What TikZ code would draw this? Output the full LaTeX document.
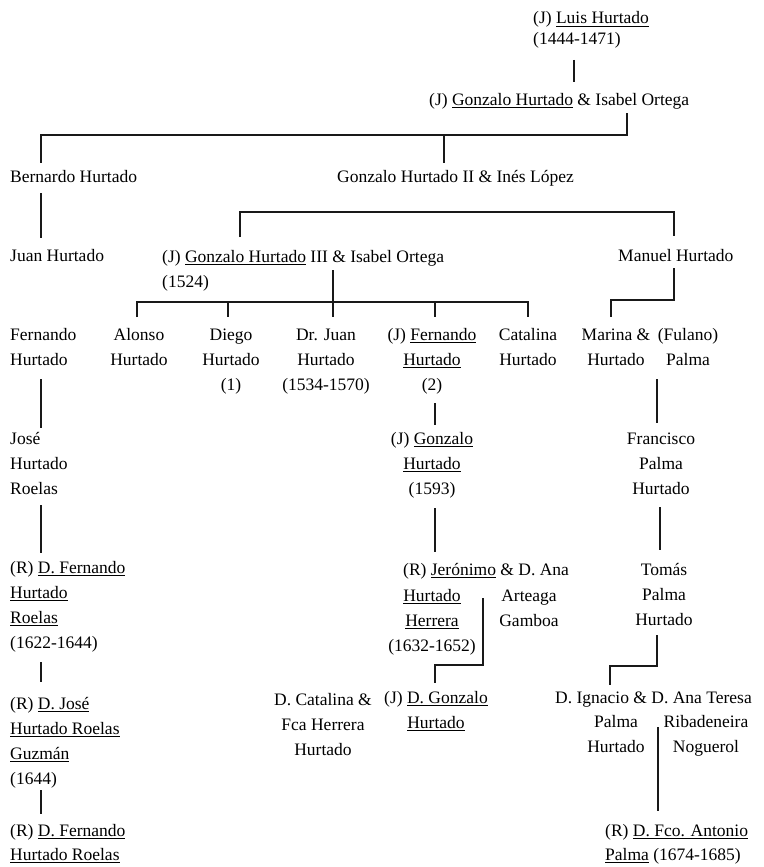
\documentclass[tikz,border=0pt]{standalone}
\usepackage{fontspec}
\setmainfont{Liberation Serif}
\newcommand\undl[1]{\setbox0\hbox{#1}\rlap{\rule[-2.8pt]{\wd0}{0.7pt}}\box0\relax}
\tikzset{
  lbl/.style={inner sep=0pt, font=\fontsize{17.5}{25}\selectfont},
  lft/.style={lbl, align=left, anchor=base west},
  ctr/.style={lbl, align=center, anchor=base},
  link/.style={line width=1.1pt, draw=black!90},
}
\begin{document}
\begin{tikzpicture}[x=1pt,y=-1pt]
\useasboundingbox (0,0) rectangle (763,867);
% nodes (anchored at the baseline of their last line)
\node[lft] (luis) at (533,45) {(J) \undl{Luis Hurtado}\\[-4pt](1444-1471)};
\node[lft] (gon1) at (429,105) {(J) \undl{Gonzalo Hurtado} \& Isabel Ortega};
\node[lft] (bern) at (10,182) {Bernardo Hurtado};
\node[lft] (gon2) at (337,182) {Gonzalo Hurtado II \& Inés López};
\node[lft] (juan) at (10,261) {Juan Hurtado};
\node[lft] (gon3) at (162,287) {(J) \undl{Gonzalo Hurtado} III \& Isabel Ortega\\(1524)};
\node[lft] (manuel) at (618,261) {Manuel Hurtado};
\node[lft] (fern) at (10,365) {Fernando\\Hurtado};
\node[ctr] (alonso) at (139,365) {Alonso\\Hurtado};
\node[ctr] (diego) at (231,390) {Diego\\Hurtado\\(1)};
\node[ctr] (drjuan) at (326,390) {Dr. Juan\\Hurtado\\(1534-1570)};
\node[ctr] (fern2) at (432,390) {(J) \undl{Fernando}\\\undl{Hurtado}\\(2)};
\node[ctr] (catal) at (528,365) {Catalina\\Hurtado};
\node[ctr] (marina) at (616,365) {Marina \&\\Hurtado};
\node[ctr] (fulano) at (688,365) {(Fulano)\\Palma};
\node[lft] (jose) at (10,494) {José\\Hurtado\\Roelas};
\node[ctr] (gon4) at (432,494) {(J) \undl{Gonzalo}\\\undl{Hurtado}\\(1593)};
\node[ctr] (franc) at (661,494) {Francisco\\Palma\\Hurtado};
\node[lft] (dfern) at (10,648) {(R) \undl{D. Fernando}\\\undl{Hurtado}\\\undl{Roelas}\\(1622-1644)};
\node[lft] (jer1) at (403,575) {(R) \undl{Jerónimo} \& D. Ana};
\node[ctr] (jer2) at (432,651) {\undl{Hurtado}\\\undl{Herrera}\\(1632-1652)};
\node[ctr] (ana) at (529,626) {Arteaga\\Gamboa};
\node[ctr] (tomas) at (664,625) {Tomás\\Palma\\Hurtado};
\node[lft] (djose) at (10,784) {(R) \undl{D. José}\\\undl{Hurtado Roelas}\\\undl{Guzmán}\\(1644)};
\node[ctr] (dcat) at (323,755) {D. Catalina \&\\Fca Herrera\\Hurtado};
\node[ctr] (dgonz) at (436,728) {(J) \undl{D. Gonzalo}\\\undl{Hurtado}};
\node[lft] (ignac) at (555,703) {D. Ignacio \& D. Ana Teresa};
\node[ctr] (ignac2) at (616,752) {Palma\\Hurtado};
\node[ctr] (anat) at (706,752) {Ribadeneira\\Noguerol};
\node[lft] (dfern3) at (10,860) {(R) \undl{D. Fernando}\\[-1pt]\undl{Hurtado Roelas}};
\node[lft] (fco) at (605,860) {(R) \undl{D. Fco. Antonio}\\[-1pt]\undl{Palma} (1674-1685)};
% coordinates
\coordinate (a1) at (574,60);   \coordinate (a2) at (574,82);
\coordinate (b1) at (627,113);  \coordinate (b2) at (627,135);
\coordinate (b3) at (41,135);   \coordinate (b4) at (41,163);
\coordinate (b5) at (444,135);  \coordinate (b6) at (444,163);
\coordinate (c1) at (41,193);   \coordinate (c2) at (41,238);
\coordinate (d1) at (240,237);  \coordinate (d2) at (240,212);
\coordinate (d3) at (674,212);  \coordinate (d4) at (674,236);
\coordinate (e1) at (333,270);  \coordinate (e2) at (333,317);
\coordinate (f1) at (137,317);  \coordinate (f2) at (137,302);
\coordinate (f3) at (528,302);  \coordinate (f4) at (528,317);
\coordinate (f5) at (228,302);  \coordinate (f6) at (228,317);
\coordinate (f7) at (435,302);  \coordinate (f8) at (435,317);
\coordinate (g1) at (674,268);  \coordinate (g2) at (674,300);
\coordinate (g3) at (611,300);  \coordinate (g4) at (611,317);
\coordinate (h1) at (41,379);   \coordinate (h2) at (41,428);
\coordinate (i1) at (657,379);  \coordinate (i2) at (657,423);
\coordinate (k1) at (435,403);  \coordinate (k2) at (435,425);
\coordinate (l1) at (41,505);   \coordinate (l2) at (41,553);
\coordinate (m1) at (435,508);  \coordinate (m2) at (435,552);
\coordinate (n1) at (660,507);  \coordinate (n2) at (660,550);
\coordinate (o1) at (41,662);   \coordinate (o2) at (41,682);
\coordinate (p1) at (483,598);  \coordinate (p2) at (483,665);
\coordinate (p3) at (435,665);  \coordinate (p4) at (435,683);
\coordinate (q1) at (657,635);  \coordinate (q2) at (657,666);
\coordinate (q3) at (610,666);  \coordinate (q4) at (610,685);
\coordinate (r1) at (658,727);  \coordinate (r2) at (658,811);
\coordinate (s1) at (41,790);   \coordinate (s2) at (41,814);
% connectors
\draw[link] (a1) -- (a2);
\draw[link] (b1) -- (b2) -- (b3) -- (b4);
\draw[link] (b5) -- (b6);
\draw[link] (c1) -- (c2);
\draw[link] (d1) -- (d2) -- (d3) -- (d4);
\draw[link] (e1) -- (e2);
\draw[link] (f1) -- (f2) -- (f3) -- (f4);
\draw[link] (f5) -- (f6);
\draw[link] (f7) -- (f8);
\draw[link] (g1) -- (g2) -- (g3) -- (g4);
\draw[link] (h1) -- (h2);
\draw[link] (i1) -- (i2);
\draw[link] (k1) -- (k2);
\draw[link] (l1) -- (l2);
\draw[link] (m1) -- (m2);
\draw[link] (n1) -- (n2);
\draw[link] (o1) -- (o2);
\draw[link] (p1) -- (p2) -- (p3) -- (p4);
\draw[link] (q1) -- (q2) -- (q3) -- (q4);
\draw[link] (r1) -- (r2);
\draw[link] (s1) -- (s2);
\end{tikzpicture}
\end{document}
